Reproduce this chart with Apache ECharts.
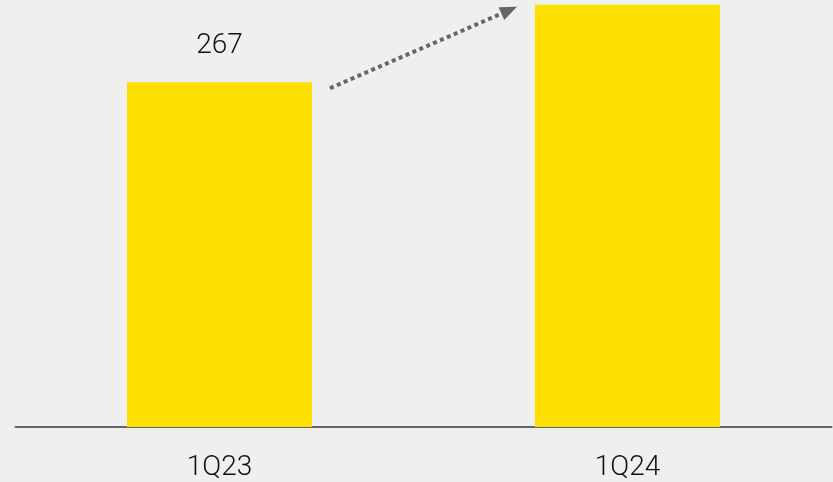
<!DOCTYPE html>
<html>
<head>
<meta charset="utf-8">
<script src="https://cdn.jsdelivr.net/npm/echarts@6/dist/echarts.min.js"></script>
<style>
    html, body { margin: 0; padding: 0; background: #efefef; }
    #chart1 { width: 833px; height: 482px; }
</style>
</head>
<body>
<div id="chart1"></div>
<script>
    let categories = ['1Q23', '1Q24'];
    let values = [267, 327];
    let shownLabels = ['267', ''];

    let chart1 = echarts.init(document.getElementById('chart1'));
    chart1.setOption({
        backgroundColor: '#efefef',
        animation: false,
        grid: { left: 15.5, right: 1.5, top: 0, bottom: 51 },
        xAxis: {
            type: 'category',
            data: categories,
            axisLine: { lineStyle: { color: '#666', width: 2 } },
            axisTick: { show: false },
            axisLabel: {
                margin: 27,
                fontSize: 28,
                fontWeight: 300,
                fontFamily: 'Roboto, sans-serif',
                color: '#111'
            }
        },
        yAxis: {
            type: 'value',
            min: 0,
            max: 330.7,
            show: false,
            splitLine: { show: false }
        },
        series: [{
            type: 'bar',
            data: values,
            barWidth: 185,
            itemStyle: { color: '#fce100' },
            label: {
                show: true,
                position: 'top',
                distance: 22,
                fontSize: 28,
                fontWeight: 300,
                fontFamily: 'Roboto, sans-serif',
                color: '#111',
                formatter: function (p) { return shownLabels[p.dataIndex]; }
            }
        }]
    });

    // dotted growth arrow between the two bar tops
    let p1 = chart1.convertToPixel({ seriesIndex: 0 }, [0, values[0]]);
    let p2 = chart1.convertToPixel({ seriesIndex: 0 }, [1, values[1]]);
    let x1 = p1[0] + 92.5 + 18, y1 = p1[1] + 6;
    let x2 = p2[0] - 92.5 - 18, y2 = p2[1] + 2;
    let ang = Math.atan2(y2 - y1, x2 - x1);
    let headLen = 17, headW = 7;
    let bx = x2 - headLen * Math.cos(ang), by = y2 - headLen * Math.sin(ang);
    let nx = -Math.sin(ang), ny = Math.cos(ang);
    chart1.setOption({
        graphic: [
            {
                type: 'line',
                shape: { x1: x1, y1: y1, x2: bx + 2 * Math.cos(ang), y2: by + 2 * Math.sin(ang) },
                style: { stroke: '#666', lineWidth: 4, lineDash: [4, 3.5] }
            },
            {
                type: 'polygon',
                shape: { points: [[x2, y2], [bx + nx * headW, by + ny * headW], [bx - nx * headW, by - ny * headW]] },
                style: { fill: '#666' }
            }
        ]
    });
</script>
</body>
</html>
